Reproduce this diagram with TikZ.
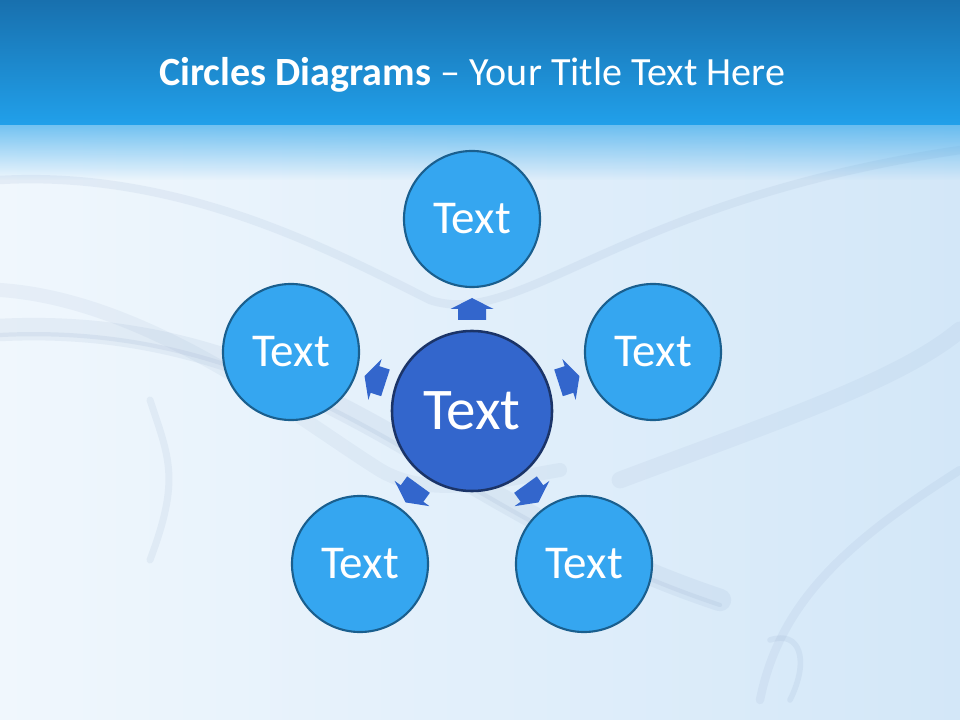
\documentclass[tikz,border=0pt]{standalone}
\usepackage{fontspec}
\setmainfont{Carlito}
\usetikzlibrary{calc,fadings}

\definecolor{bandtop}{HTML}{1870AE}
\definecolor{bandbot}{HTML}{21A0EA}
\definecolor{paleblue}{HTML}{F0F7FD}
\definecolor{sideblue}{HTML}{D3E7F8}
\definecolor{wisp}{HTML}{8FA6C8}
\definecolor{outerfill}{HTML}{35A6F0}
\definecolor{outerline}{HTML}{1A5F8E}
\definecolor{hubfill}{HTML}{3366CC}
\definecolor{hubline}{HTML}{1B3468}

\begin{document}
\begin{tikzpicture}[x=0.025cm,y=-0.025cm,every node/.style={outer sep=0pt,text=white}]
      \tikzstyle{outer}=[circle,draw=outerline,fill=outerfill,line width=1.5pt,minimum size=3.4cm,inner sep=0pt,font=\fontsize{33.5}{38}\selectfont]
      \tikzstyle{hub}=[circle,draw=hubline,fill=hubfill,line width=1.8pt,minimum size=4cm,inner sep=0pt,font=\fontsize{42}{46}\selectfont]
      \tikzstyle{blockarrow}=[fill=hubfill]
      \tikzstyle{smoke}=[draw=wisp,line cap=round]

      % background
      \useasboundingbox (0,0) rectangle (960,720);
      \shade[left color=paleblue,right color=sideblue] (0,125) rectangle (960,720);
      \draw[smoke,line width=16pt,opacity=0.12] (0,330) .. controls (200,320) and (330,400) .. (450,470) .. controls (520,510) and (600,560) .. (720,600);
      \draw[smoke,line width=3pt,opacity=0.15] (0,335) .. controls (200,325) and (330,405) .. (450,475) .. controls (520,515) and (600,565) .. (720,605);
      \draw[smoke,line width=6pt,opacity=0.13] (0,180) .. controls (180,170) and (330,250) .. (430,300) .. controls (520,330) and (620,200) .. (960,150);
      \draw[smoke,line width=10pt,opacity=0.1] (0,290) .. controls (150,300) and (300,420) .. (380,470) .. controls (430,500) and (500,480) .. (560,470);
      \draw[smoke,line width=5pt,opacity=0.12] (150,400) .. controls (170,460) and (180,480) .. (150,560);
      \draw[smoke,line width=12pt,opacity=0.1] (620,480) .. controls (780,420) and (900,380) .. (960,330);
      \draw[smoke,line width=6pt,opacity=0.12] (760,700) .. controls (780,600) and (850,540) .. (960,470);
      \draw[smoke,line width=4pt,opacity=0.14] (770,640) .. controls (800,630) and (810,660) .. (790,700);
      \fill[bandbot,path fading=south,opacity=0.6] (0,125) rectangle (960,180);
      \shade[top color=bandtop,bottom color=bandbot] (0,0) rectangle (960,125);

      % title
      \node (title) at (472,75) {\fontsize{28.5}{33}\selectfont\textbf{Circles Diagrams} -- Your Title Text Here};

      % circles
      \node (hub) at (472,411) [hub] {Text};
      \node (top) at (472,219) [outer] {Text};
      \node (left) at (291,352) [outer] {Text};
      \node (right) at (653,352) [outer] {Text};
      \node (botleft) at (360,564) [outer] {Text};
      \node (botright) at (584,564) [outer] {Text};

      % block arrows from hub outwards
      \foreach \n/\a in {top/90,left/162,botleft/234,botright/306,right/18}
        \fill[blockarrow,shift={(hub.center)},rotate=\a] (91,-14) -- (102,-14) -- (102,-21.5) -- (113,0) -- (102,21.5) -- (102,14) -- (91,14) -- cycle;
    \end{tikzpicture}
\end{document}
